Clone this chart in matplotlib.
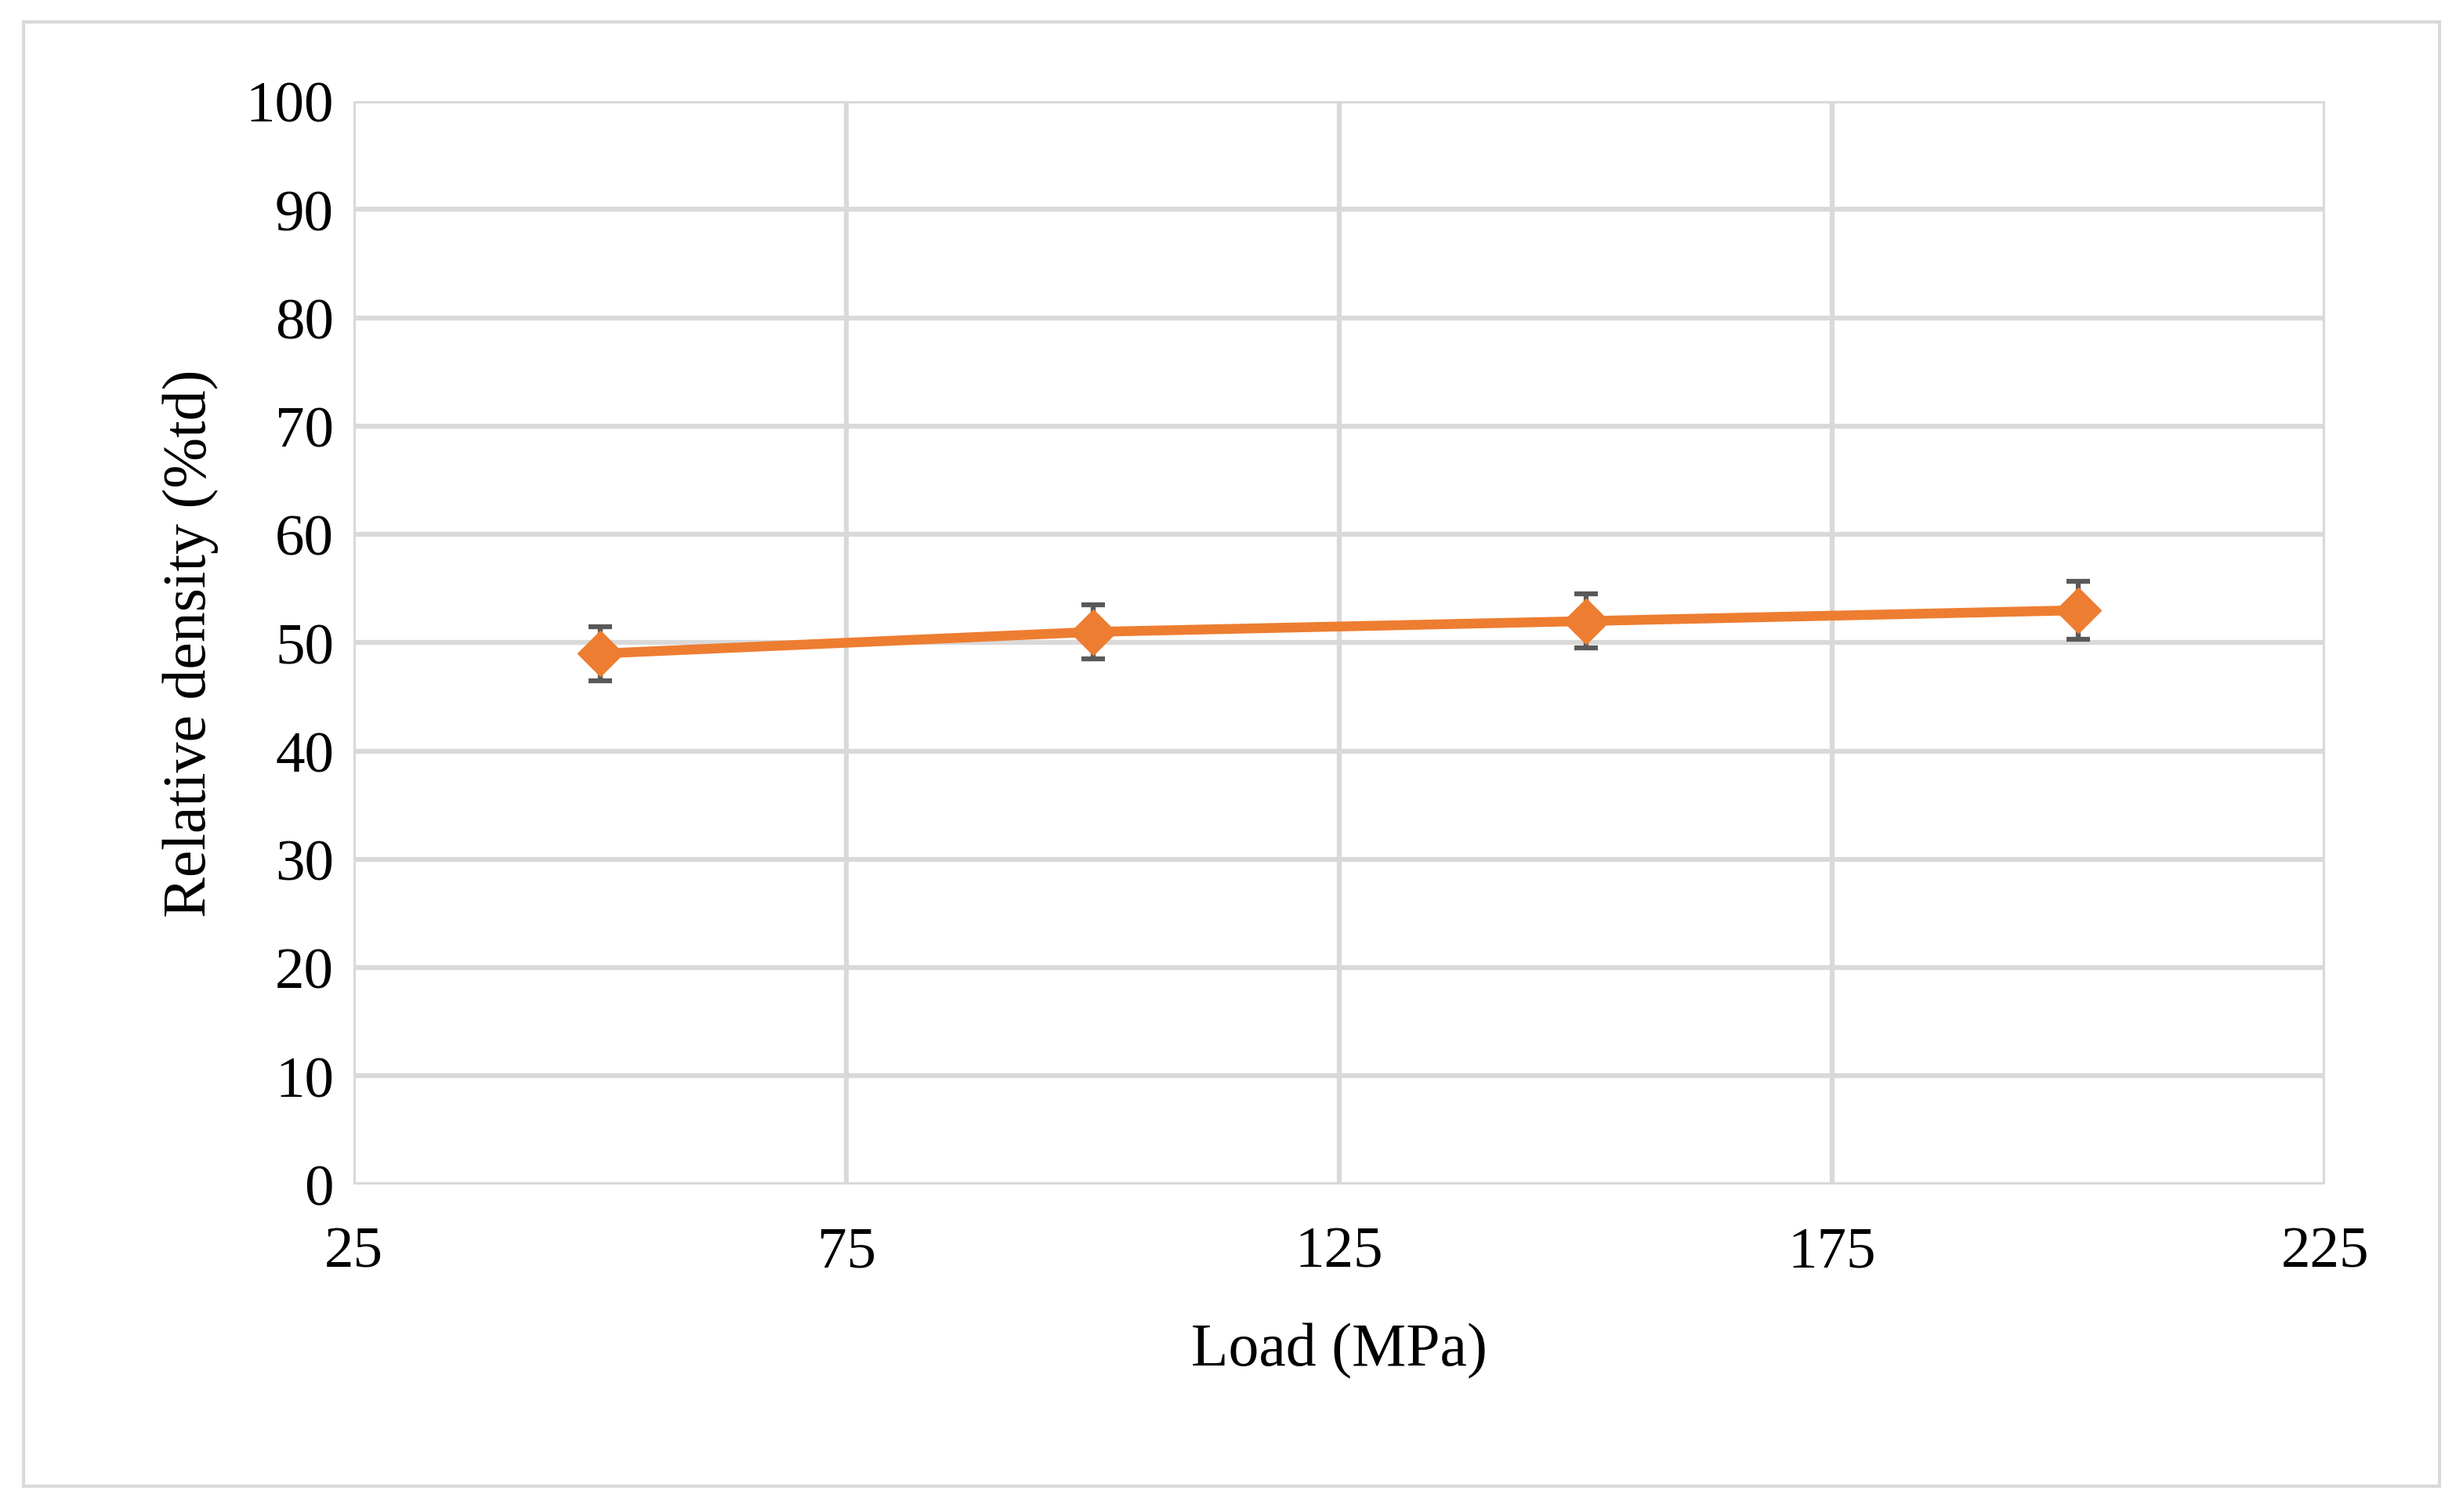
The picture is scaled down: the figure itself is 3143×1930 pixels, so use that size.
import matplotlib
matplotlib.use("Agg")
import matplotlib.pyplot as plt
from matplotlib.patches import Rectangle

loads = [50, 100, 150, 200]
density = [49, 51, 52, 53]
err = [2.5, 2.5, 2.5, 2.7]
xticks = [25, 75, 125, 175, 225]
yticks = list(range(0, 101, 10))

plt.rcParams['font.family'] = ['Liberation Serif', 'DejaVu Serif']
fig = plt.figure(figsize=(31.43, 19.31), dpi=100)
fig.patches.append(Rectangle((0.0095, 0.017), 0.981, 0.968, transform=fig.transFigure,
                             fill=False, edgecolor='#d9d9d9', lw=3))
ax = fig.add_axes([0.1435, 0.2166, 0.8005, 0.716])
ax.errorbar(loads, density, yerr=err, color='#ed7d31', lw=9, marker='D', ms=30,
            ecolor='#595959', elinewidth=4.5, capsize=11, capthick=4.5, zorder=3)
ax.set_xlim(25, 225)
ax.set_ylim(0, 100)
ax.set_xticks(xticks)
ax.set_yticks(yticks)
ax.grid(True, color='#d9d9d9', lw=4.5)
for s in ax.spines.values():
    s.set_visible(False)
ax.tick_params(length=0, labelsize=54, pad=18)
ax.tick_params(axis='x', pad=38)
ax.set_xlabel('Load (MPa)', fontsize=56, labelpad=40)
ax.set_ylabel('Relative density (%td)', fontsize=56, labelpad=25)
fig.savefig('out.png')
